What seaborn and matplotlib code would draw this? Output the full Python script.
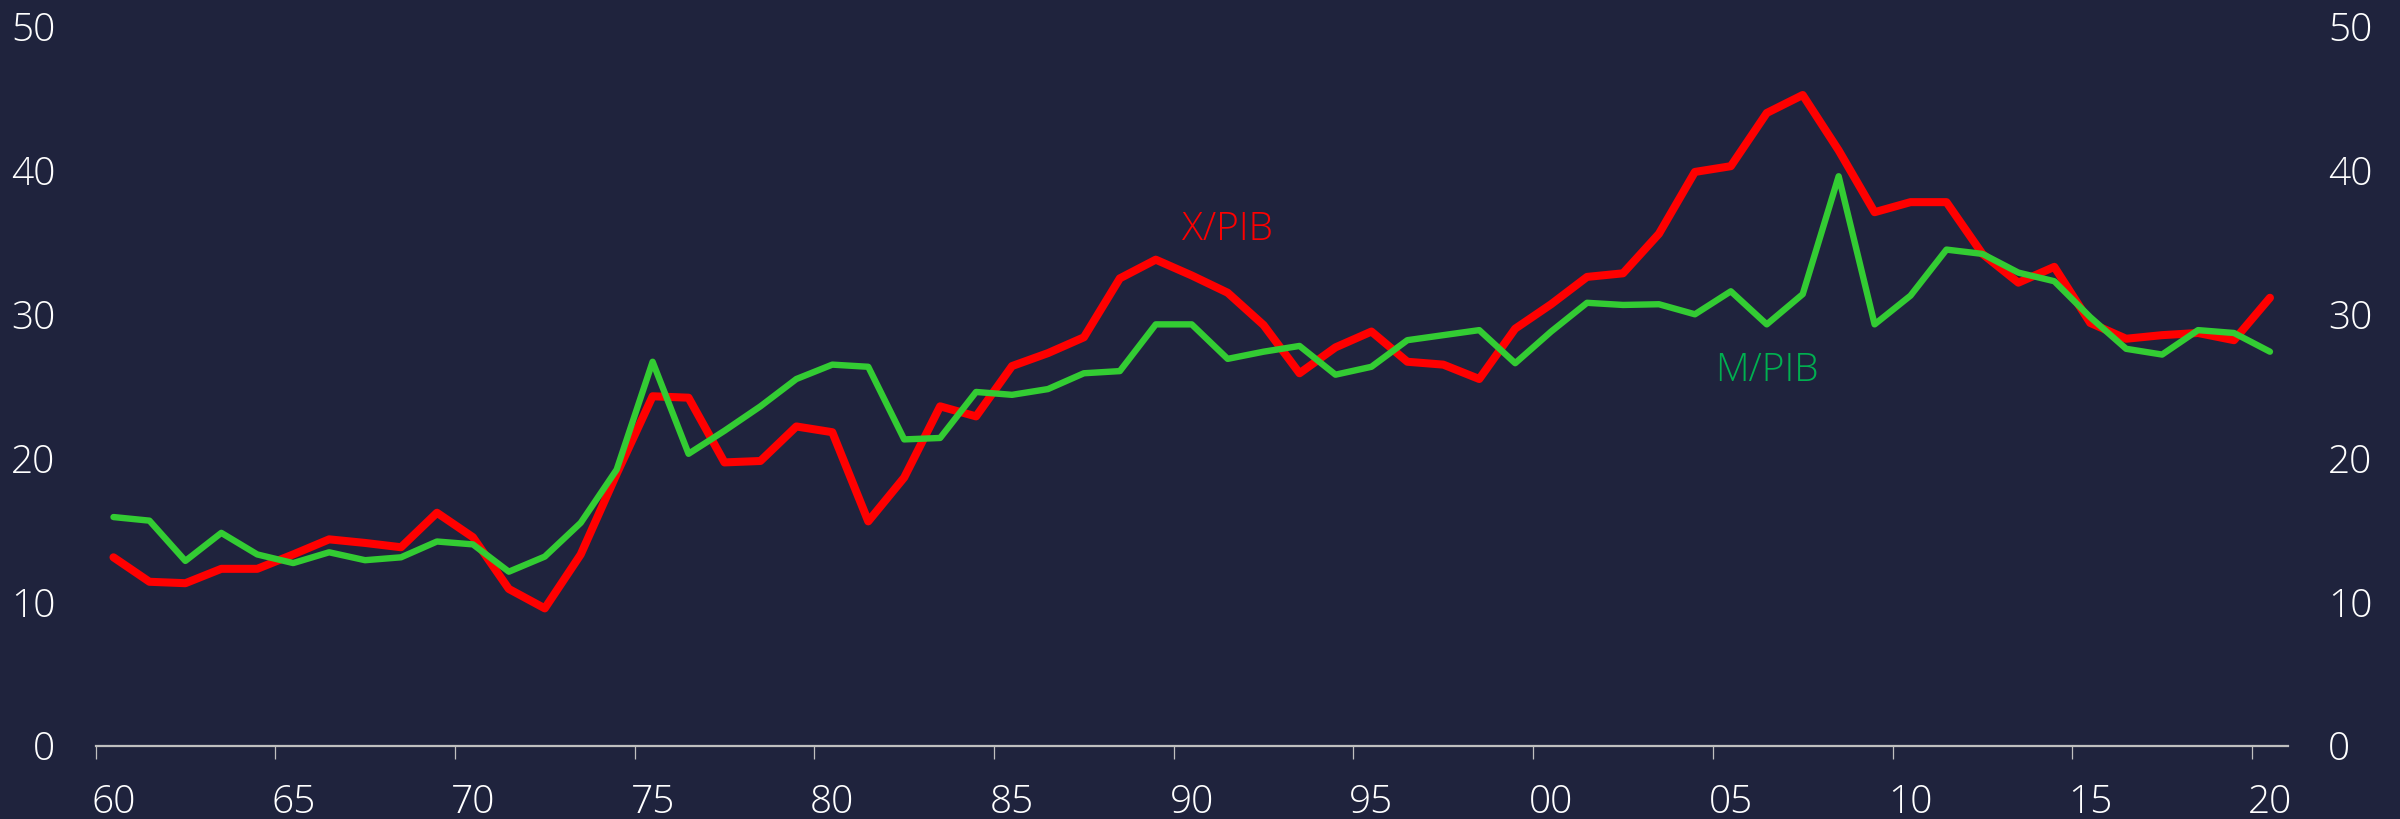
import numpy as np
import pandas as pd
import matplotlib
matplotlib.use("Agg")
import matplotlib.pyplot as plt
import seaborn as sns

years = list(range(1960, 2021))
x_pib = [13.1, 11.4, 11.3, 12.3, 12.3, 13.3, 14.35, 14.1, 13.8, 16.2,
         14.5, 10.9, 9.55, 13.3, 18.9, 24.3, 24.2, 19.7, 19.8, 22.2,
         21.8, 15.6, 18.65, 23.6, 22.9, 26.4, 27.3, 28.4, 32.5, 33.8,
         32.7, 31.5, 29.25, 25.9, 27.7, 28.8, 26.7, 26.5, 25.5, 29.0,
         30.7, 32.6, 32.85, 35.6, 39.9, 40.3, 44.0, 45.25, 41.4, 37.1,
         37.8, 37.8, 34.2, 32.2, 33.3, 29.4, 28.3, 28.55, 28.7, 28.2,
         31.15]
m_pib = [15.9, 15.65, 12.85, 14.8, 13.3, 12.7, 13.45, 12.9, 13.1, 14.2,
         14.0, 12.1, 13.15, 15.5, 19.2, 26.7, 20.3, 21.9, 23.6, 25.5,
         26.5, 26.35, 21.3, 21.4, 24.6, 24.4, 24.8, 25.9, 26.05, 29.3,
         29.3, 26.9, 27.4, 27.8, 25.8, 26.35, 28.2, 28.55, 28.9, 26.6,
         28.8, 30.8, 30.65, 30.7, 30.0, 31.6, 29.3, 31.4, 39.6, 29.3,
         31.3, 34.5, 34.2, 32.9, 32.3, 29.8, 27.6, 27.2, 28.9, 28.7,
         27.4]
series_names = ["X/PIB", "M/PIB"]
tick_years = list(range(1960, 2021, 5))
tick_labels = ["60", "65", "70", "75", "80", "85", "90", "95", "00", "05", "10", "15", "20"]
y_ticks = [0, 10, 20, 30, 40, 50]

BG = "#1f233d"
RED = "#ff0000"
GREEN = "#33cc33"
GREEN_TXT = "#00b050"
AXC = "#bfbfbf"

df = pd.DataFrame({
    "year": years * 2,
    "value": x_pib + m_pib,
    "serie": [series_names[0]] * len(years) + [series_names[1]] * len(years),
})

sns.set_style("dark")
plt.rcParams["font.family"] = ["Open Sans", "DejaVu Sans"]
plt.rcParams["font.weight"] = "light"

fig = plt.figure(figsize=(24, 8.19), dpi=100, facecolor=BG)
ax = fig.add_axes([0.0398, 0.0895, 0.9135, 0.8779])
ax.set_facecolor(BG)

sub_x = df[df.serie == "X/PIB"]
sub_m = df[df.serie == "M/PIB"]
sns.lineplot(data=sub_x, x="year", y="value", color=RED, linewidth=5.8, ax=ax,
             solid_capstyle="round", solid_joinstyle="round")
sns.lineplot(data=sub_m, x="year", y="value", color=GREEN, linewidth=4.6, ax=ax,
             solid_capstyle="round", solid_joinstyle="round")

ax.set_xlim(years[0] - 0.5, years[-1] + 0.5)
ax.set_ylim(0, 50)
ax.grid(False)
ax.set_xlabel("")
ax.set_ylabel("")

for s in ["left", "right", "top"]:
    ax.spines[s].set_visible(False)
ax.spines["bottom"].set_color(AXC)
ax.spines["bottom"].set_linewidth(1.6)

ax.set_xticks(tick_years)
ax.set_xticklabels(tick_labels)
ax.set_xticks([t - 0.5 for t in tick_years], minor=True)
ax.tick_params(axis="x", which="major", bottom=True, length=0, pad=27, labelsize=28,
               labelcolor="white")
ax.tick_params(axis="x", which="minor", bottom=True, length=9.5, width=0.9, color=AXC,
               direction="out")

ax.set_yticks(y_ticks)
ax.tick_params(axis="y", which="both", length=0, pad=29, labelsize=28, labelcolor="white",
               left=True, right=True, labelleft=True, labelright=True)

for lab in ax.get_xticklabels() + ax.get_yticklabels():
    lab.set_fontweight("light")

ax.text(1991.0, 35.9, "X/PIB", color=RED, fontsize=28, fontweight="light",
        ha="center", va="center")
ax.text(2006.0, 26.1, "M/PIB", color=GREEN_TXT, fontsize=28, fontweight="light",
        ha="center", va="center")

fig.savefig("out.png", dpi=100, facecolor=BG)
